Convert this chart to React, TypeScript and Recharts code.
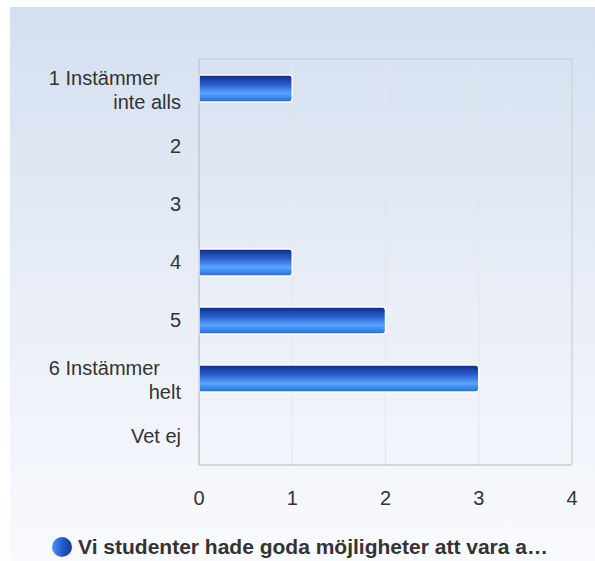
import React from "react";
import {
  BarChart,
  Bar,
  XAxis,
  YAxis,
  CartesianGrid,
  Legend,
  ReferenceArea,
} from "recharts";

// answer options (line breaks as in the original labels)
const categories = [
  "1 Instämmer\ninte alls",
  "2",
  "3",
  "4",
  "5",
  "6 Instämmer\nhelt",
  "Vet ej",
];
const counts = [1, 0, 0, 1, 2, 3, 0];
const xTicks = [0, 1, 2, 3, 4];
const seriesName = "Vi studenter hade goda möjligheter att vara a…";

const FONT = '"Liberation Sans", Arial, Helvetica, sans-serif';
const TEXT = "#333333";

const data = categories.map((c, i) => ({ name: c, value: counts[i] }));

function YTick(props: any) {
  const { x, y, payload } = props;
  const lines = String(payload.value).split("\n");
  if (lines.length === 1) {
    return (
      <text x={x} y={y + 7} textAnchor="end" fill={TEXT} fontSize={20} fontFamily={FONT}>
        {lines[0]}
      </text>
    );
  }
  return (
    <g>
      <text x={x - 21} y={y - 3} textAnchor="end" fill={TEXT} fontSize={20} fontFamily={FONT}>
        {lines[0]}
      </text>
      <text x={x} y={y + 21} textAnchor="end" fill={TEXT} fontSize={20} fontFamily={FONT}>
        {lines[1]}
      </text>
    </g>
  );
}

function XTick(props: any) {
  const { x, y, payload } = props;
  return (
    <text x={x} y={y + 32} textAnchor="middle" fill={TEXT} fontSize={20} fontFamily={FONT}>
      {payload.value}
    </text>
  );
}

function LegendBox() {
  return (
    <div
      style={{
        display: "flex",
        justifyContent: "center",
        alignItems: "center",
        paddingTop: 14,
        paddingLeft: 3,
        fontFamily: FONT,
        fontSize: 21,
        fontWeight: "bold",
        color: TEXT,
      }}
    >
      <svg width={26} height={22} style={{ marginRight: 2 }}>
        <defs>
          <linearGradient id="legendDot" x1="0" y1="0" x2="1" y2="0">
            <stop offset="0%" stopColor="#4a95f7" />
            <stop offset="55%" stopColor="#2358c9" />
            <stop offset="100%" stopColor="#17379b" />
          </linearGradient>
        </defs>
        <circle cx={12} cy={11} r={10} fill="url(#legendDot)" />
      </svg>
      <span>{seriesName}</span>
    </div>
  );
}

export default function App() {
  return (
    <div style={{ position: "absolute", left: 0, top: 0, width: 595, height: 561, background: "#fff", overflow: "hidden" }}>
      <div
        style={{
          position: "absolute",
          left: 10,
          top: 7,
          width: 585,
          height: 554,
          background: "linear-gradient(to bottom, #d4dff0 0%, #e6ecf6 45%, #f9fafd 100%)",
        }}
      />
      <div style={{ position: "absolute", left: 0, top: 0 }}>
        <BarChart
          width={595}
          height={561}
          data={data}
          layout="vertical"
          margin={{ top: 59, right: 23, left: 0, bottom: 0 }}
          barSize={27}
        >
          <defs>
            <linearGradient id="barFill" x1="0" y1="0" x2="0" y2="1">
              <stop offset="0%" stopColor="#0d2a88" />
              <stop offset="35%" stopColor="#2a5ecd" />
              <stop offset="68%" stopColor="#56a5ff" />
              <stop offset="100%" stopColor="#2768d8" />
            </linearGradient>
          </defs>
          <CartesianGrid horizontal={false} stroke="#e4e6ea" />
          <XAxis
            type="number"
            domain={[0, 4]}
            ticks={xTicks}
            interval={0}
            height={56}
            tickLine={false}
            axisLine={{ stroke: "#cccccc" }}
            tick={<XTick />}
          />
          <YAxis
            type="category"
            dataKey="name"
            width={199}
            interval={0}
            tickLine={false}
            axisLine={{ stroke: "#c4c4c4" }}
            tickMargin={12}
            tick={<YTick />}
          />
          <ReferenceArea x1={0} x2={4} fill="none" stroke="#cccccc" strokeOpacity={1} />
          <Bar
            dataKey="value"
            name={seriesName}
            fill="url(#barFill)"
            stroke="#ffffff"
            strokeWidth={1.5}
            radius={[0, 3, 3, 0]}
            isAnimationActive={false}
          />
          <Legend
            verticalAlign="bottom"
            height={40}
            wrapperStyle={{ left: 0, width: 595 }}
            content={<LegendBox />}
          />
        </BarChart>
      </div>
    </div>
  );
}
